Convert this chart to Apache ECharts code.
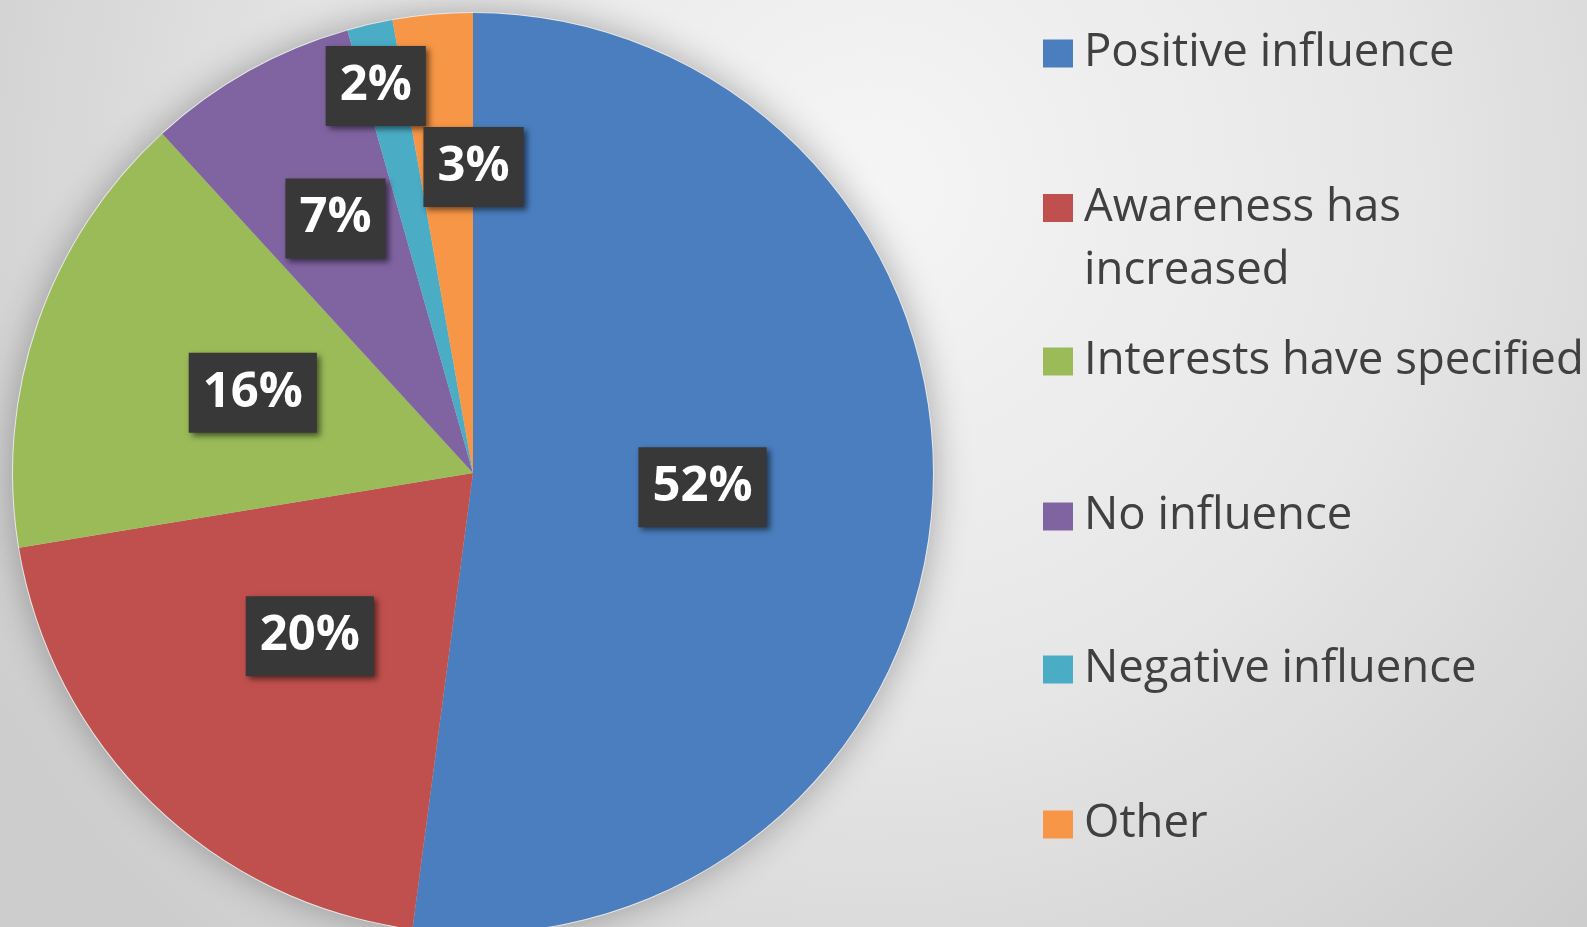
<!DOCTYPE html>
<html>
<head>
<meta charset="utf-8">
<title>Influence pie</title>
<script src="https://cdn.jsdelivr.net/npm/echarts@6/dist/echarts.min.js"></script>
<style>
  html, body { margin: 0; padding: 0; }
  #chart { width: 1587px; height: 927px; }
</style>
</head>
<body>
<div id="chart"></div>
<script>
// categories and shares (percent)
const categories = [
  "Positive influence",
  "Awareness has increased",
  "Interests have specified",
  "No influence",
  "Negative influence",
  "Other"
];
const shares = [52.1, 20.3, 15.8, 7.4, 1.6, 2.8];
const colors = ["#4a7ebf", "#c0504d", "#9bbb59", "#8064a2", "#4bacc6", "#f79646"];

// label nudges for the small slices (Excel moved them out)
const labelNudge = [[-3, -1], [-1, -4], [0, -4], [-24, -51], [-45, -160], [21, -74]];
// legend rows, vertical centre of each marker
const legendRows = [53.5, 208, 361.5, 516.5, 669.5, 824.5];

const chart = echarts.init(document.getElementById("chart"));

const pieData = categories.map((name, i) => ({
  name,
  value: shares[i],
  itemStyle: { color: colors[i] }
}));

const LINE = 63;
const legends = categories.map((name, i) => {
  const twoLine = name === "Awareness has increased";
  return {
    orient: "vertical",
    left: 1043,
    top: legendRows[i] - (twoLine ? LINE * 1.5 : LINE / 2),
    padding: 0,
    itemWidth: 30,
    itemHeight: 28,
    itemGap: 0,
    icon: "rect",
    selectedMode: false,
    data: [name],
    // blank first line keeps the marker level with "Awareness has"
    formatter: n => (n === "Awareness has increased" ? "\nAwareness has\nincreased" : n),
    textStyle: {
      fontFamily: "Open Sans",
      fontSize: 45.5,
      color: "#404040",
      lineHeight: LINE,
      padding: [0, 0, 0, 6]
    }
  };
});

chart.setOption({
  animation: false,
  backgroundColor: {
    type: "radial",
    x: 0.55,
    y: 0.2,
    r: 1.1,
    colorStops: [
      { offset: 0, color: "#f5f5f5" },
      { offset: 0.5, color: "#e7e7e7" },
      { offset: 1, color: "#cdcdcd" }
    ]
  },
  legend: legends,
  series: [
    {
      name: "Influence",
      type: "pie",
      z: 3,
      center: [473, 473],
      radius: 460,
      startAngle: 90,
      clockwise: true,
      avoidLabelOverlap: false,
      data: pieData,
      label: {
        show: true,
        position: "inside",
        formatter: p => Math.round(p.percent) + "%",
        fontFamily: "Open Sans",
        fontWeight: "bold",
        fontSize: 49,
        lineHeight: 50,
        color: "#ffffff",
        backgroundColor: "#383838",
        padding: [15, 14, 15, 14],
        shadowColor: "rgba(0,0,0,0.55)",
        shadowBlur: 6,
        shadowOffsetX: 3,
        shadowOffsetY: 3
      },
      labelLine: { show: false },
      labelLayout: p => ({ dx: labelNudge[p.dataIndex][0], dy: labelNudge[p.dataIndex][1] }),
      emphasis: { disabled: true }
    },
    {
      // soft halo under the pie
      name: "halo",
      type: "pie",
      z: 1,
      silent: true,
      center: [473, 473],
      radius: 461,
      startAngle: 90,
      data: categories.map((name, i) => ({ name, value: shares[i] })),
      itemStyle: {
        color: "#e8e8e8",
        shadowColor: "rgba(0,0,0,0.3)",
        shadowBlur: 36
      },
      label: { show: false },
      labelLine: { show: false },
      emphasis: { disabled: true }
    }
  ]
});
</script>
</body>
</html>
